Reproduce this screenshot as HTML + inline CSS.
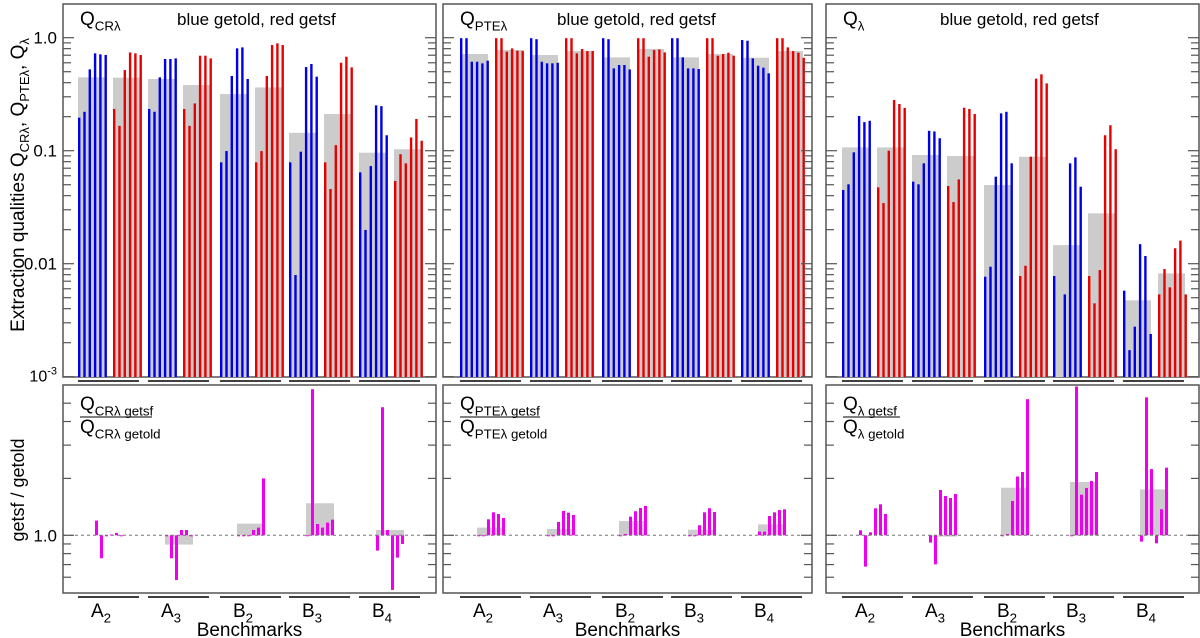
<!DOCTYPE html>
<html><head><meta charset="utf-8"><style>
html,body{margin:0;padding:0;background:#fff;}
svg{display:block;font-family:"Liberation Sans",sans-serif;}
</style></head><body>
<svg id="chart" width="1200" height="638" viewBox="0 0 1200 638" xmlns="http://www.w3.org/2000/svg">
<text transform="translate(24,185) rotate(-90)" text-anchor="middle" font-size="19">Extraction qualities  Q<tspan font-size="13" dy="5">CRλ</tspan><tspan dy="-5">, Q</tspan><tspan font-size="13" dy="5">PTEλ</tspan><tspan dy="-5">, Q</tspan><tspan font-size="13" dy="5">λ</tspan></text>
<text transform="translate(24,490) rotate(-90)" text-anchor="middle" font-size="18">getsf / getold</text>
</svg>
<script>
const benchmarks=['A2','A3','B2','B3','B4'];
const crBlue=[[0.196,0.221,0.525,0.727,0.713,0.703],[0.234,0.221,0.446,0.648,0.648,0.656],[0.0789,0.0993,0.458,0.805,0.821,0.431],[0.0789,0.00794,0.098,0.55,0.585,0.452],[0.0643,0.0199,0.0731,0.252,0.248,0.137]];
const crRed=[[0.234,0.166,0.517,0.741,0.727,0.703],[0.234,0.166,0.262,0.693,0.693,0.656],[0.0789,0.0993,0.458,0.861,0.891,0.861],[0.0789,0.0458,0.112,0.601,0.679,0.546],[0.054,0.093,0.0773,0.131,0.191,0.1225]];
const crBlueMean=[0.446,0.431,0.317,0.144,0.096];
const crRedMean=[0.443,0.381,0.363,0.211,0.103];
const pteBlue=[[0.99,0.99,0.613,0.613,0.593,0.626],[0.99,0.97,0.613,0.593,0.593,0.6],[0.99,0.97,0.535,0.573,0.573,0.524],[0.99,0.99,0.67,0.535,0.535,0.528],[0.953,0.94,0.656,0.565,0.543,0.484]];
const pteRed=[[0.99,0.99,0.752,0.804,0.767,0.767],[0.99,0.99,0.727,0.794,0.762,0.762],[0.99,0.99,0.679,0.778,0.788,0.742],[0.99,0.99,0.693,0.717,0.737,0.693],[0.99,0.99,0.821,0.762,0.737,0.665]];
const pteBlueMean=[0.717,0.703,0.67,0.67,0.665];
const pteRedMean=[0.778,0.762,0.794,0.717,0.762];
const qBlue=[[0.0449,0.0504,0.0967,0.203,0.179,0.184],[0.0532,0.0504,0.0773,0.150,0.148,0.129],[0.00767,0.0094,0.0589,0.214,0.221,0.0773],[0.00778,0.0005,0.00535,0.0773,0.0873,0.048],[0.00577,0.00172,0.00277,0.0149,0.0117,0.00239]];
const qRed=[[0.0474,0.0344,0.100,0.281,0.259,0.239],[0.0487,0.0351,0.0557,0.240,0.234,0.211],[0.00778,0.0096,0.0885,0.434,0.474,0.394],[0.00778,0.00446,0.00879,0.137,0.168,0.103],[0.00535,0.00897,0.00618,0.0137,0.016,0.00535]];
const qBlueMean=[0.107,0.0916,0.0497,0.0146,0.00474];
const qRedMean=[0.107,0.0897,0.0885,0.0279,0.0082];
const ratioCR=[[1.196,0.756,1.0,1.01,1.03,1.0],[1.0,0.756,0.58,1.067,1.067,1.0],[1.0,1.0,1.0,1.067,1.098,2.0],[1.0,5.93,1.148,1.098,1.167,1.21],[0.83,4.76,1.067,0.514,0.762,0.9]];
const ratioCRMean=[1.0,0.893,1.153,1.477,1.067];
const ratioPTE=[[1.0,1.0,1.215,1.323,1.296,1.235],[1.0,1.0,1.176,1.345,1.318,1.281],[1.0,1.016,1.255,1.34,1.395,1.43],[1.0,1.0,1.13,1.323,1.39,1.329],[1.046,1.046,1.265,1.323,1.36,1.373]];
const ratioPTEMean=[1.098,1.08,1.19,1.071,1.143];
const ratioQ=[[1.063,0.683,1.037,1.389,1.459,1.297],[0.915,0.702,1.737,1.615,1.576,1.655],[1.0,1.016,1.519,2.045,2.163,5.25],[1.0,6.13,1.641,1.779,1.939,2.163],[0.926,5.37,2.24,0.907,1.373,2.28]];
const ratioQMean=[1.0,0.984,1.786,1.915,1.75];

const svg=document.getElementById('chart');
const NS='http://www.w3.org/2000/svg';
function mk(tag,attrs,parent){const e=document.createElementNS(NS,tag);for(const k in attrs)e.setAttribute(k,attrs[k]);(parent||svg).appendChild(e);return e;}
const TOP_Y0=4,TOP_Y1=377,BOT_Y0=385,BOT_Y1=593;
function yTop(v){return 37.7-113*Math.log10(v);}
function yBot(v){return 535.3-189*Math.log10(v);}
const groupOff=[0,70,142,211,281];
const panels=[
 {left:63,right:436,start:78,name:'cr',lab:'CRλ',blue:crBlue,red:crRed,bm:crBlueMean,rm:crRedMean,ratio:ratioCR,ratioM:ratioCRMean,fw:72},
 {left:443,right:812,start:460,name:'pte',lab:'PTEλ',blue:pteBlue,red:pteRed,bm:pteBlueMean,rm:pteRedMean,ratio:ratioPTE,ratioM:ratioPTEMean,fw:80},
 {left:826,right:1199,start:842,name:'q',lab:'λ',blue:qBlue,red:qRed,bm:qBlueMean,rm:qRedMean,ratio:ratioQ,ratioM:ratioQMean,fw:57}];

function ticks(g,p,y0,y1,list){
  list.forEach(t=>{
    if(t.y<y0||t.y>y1)return;
    const l=mk('line',{x1:p.left,x2:p.left+t.len,y1:t.y,y2:t.y,stroke:'#555','stroke-width':1.2},g);
    
    const r=mk('line',{x1:p.right-t.len,x2:p.right,y1:t.y,y2:t.y,stroke:'#555','stroke-width':1.2},g);
    
  });
}
const topTicks=[];
[0.001,0.01,0.1,1].forEach(d=>{topTicks.push({y:yTop(d),len:11});for(let m=2;m<=9;m++)topTicks.push({y:yTop(d*m),len:8});});
const botTicks=[{y:yBot(1),len:11}];
[2,3,4,5,0.9,0.8,0.7,0.6].forEach(v=>botTicks.push({y:yBot(v),len:8}));

function subText(g,x,y,main,sub,fs,name){
  const t=mk('text',{x:x,y:y,'font-size':fs},g);
  
  t.appendChild(document.createTextNode(main));
  const s=mk('tspan',{'font-size':fs*0.7,dy:fs*0.28},t);s.textContent=sub;
  return t;
}

panels.forEach((p,pi)=>{
  const g=mk('g',{});
  const fr=mk('rect',{x:p.left,y:TOP_Y0,width:p.right-p.left,height:TOP_Y1-TOP_Y0,fill:'none',stroke:'#555','stroke-width':1.5},g);
  
  benchmarks.forEach((b,i)=>{
    const x0=p.start+groupOff[i];
    const gb=mk('rect',{x:x0,y:yTop(p.bm[i]),width:28,height:TOP_Y1-yTop(p.bm[i]),fill:'#cccccc'},g);
    
    const gr=mk('rect',{x:x0+35,y:yTop(p.rm[i]),width:27,height:TOP_Y1-yTop(p.rm[i]),fill:'#cccccc'},g);
    
    p.blue[i].forEach((v,k)=>{
      if(v<0.001)return;const y=yTop(v);
      const r=mk('rect',{x:x0+k*5.3,y:y,width:2.4,height:TOP_Y1-y,fill:'#0000e6'},g);
      
    });
    p.red[i].forEach((v,k)=>{
      if(v<0.001)return;const y=yTop(v);
      const r=mk('rect',{x:x0+35+k*5.3,y:y,width:2.4,height:TOP_Y1-y,fill:'#e60000'},g);
      
    });
    const u1=mk('line',{x1:x0,x2:x0+61,y1:381,y2:381,stroke:'#000','stroke-width':1.5},g);
    
    const u2=mk('line',{x1:x0,x2:x0+61,y1:597,y2:597,stroke:'#000','stroke-width':1.5},g);
    
    const ym=yBot(p.ratioM[i]);
    const gm=mk('rect',{x:x0+17,y:Math.min(ym,yBot(1)),width:28,height:Math.abs(yBot(1)-ym),fill:'#cccccc'},g);
    
    p.ratio[i].forEach((v,k)=>{
      let y=Math.max(BOT_Y0+1,Math.min(BOT_Y1-1,yBot(v)));const yb=yBot(1);
      const r=mk('rect',{x:x0+17+k*5,y:Math.min(y,yb),width:3,height:Math.max(1,Math.abs(yb-y)),fill:'#ee00ee'},g);
      
    });
    const t=subText(g,x0+23,617,b[0],b[1],19,'benchmark-label');
    t.setAttribute('text-anchor','middle');
  });
  ticks(g,p,TOP_Y0,TOP_Y1,topTicks);
  const bf=mk('rect',{x:p.left,y:BOT_Y0,width:p.right-p.left,height:BOT_Y1-BOT_Y0,fill:'none',stroke:'#555','stroke-width':1.5},g);
  
  const dl=mk('line',{x1:p.left,x2:p.right,y1:yBot(1),y2:yBot(1),stroke:'#777','stroke-width':1,'stroke-dasharray':'3,3'},g);
  
  ticks(g,p,BOT_Y0,BOT_Y1,botTicks);
  subText(g,p.left+17,25,'Q',p.lab,19,'panel-quantity-label');
  const tt=mk('text',{x:p.left+114,y:25,'font-size':17},g);tt.textContent='blue getold, red getsf';
  
  subText(g,p.left+17,410,'Q',p.lab+' getsf',19,'ratio-numerator');
  const fl=mk('line',{x1:p.left+17,x2:p.left+17+p.fw,y1:417,y2:417,stroke:'#000','stroke-width':1},g);
  
  subText(g,p.left+17,433,'Q',p.lab+' getold',19,'ratio-denominator');
  const bx=mk('text',{x:(p.left+p.right)/2,y:636,'font-size':19,'text-anchor':'middle'},g);bx.textContent='Benchmarks';
  
});
[['1.0',1],['0.1',0.1],['0.01',0.01]].forEach(a=>{
  const t=mk('text',{x:57,y:yTop(a[1])+6,'font-size':17,'text-anchor':'end'});t.textContent=a[0];
  
});
const e3=mk('text',{x:57,y:yTop(0.001)+5,'font-size':16,'text-anchor':'end'});

e3.appendChild(document.createTextNode('10'));
const sp=mk('tspan',{'font-size':11,dy:-7},e3);sp.textContent='-3';
const b1=mk('text',{x:57,y:yBot(1)+6,'font-size':17,'text-anchor':'end'});b1.textContent='1.0';

</script>
</body></html>
